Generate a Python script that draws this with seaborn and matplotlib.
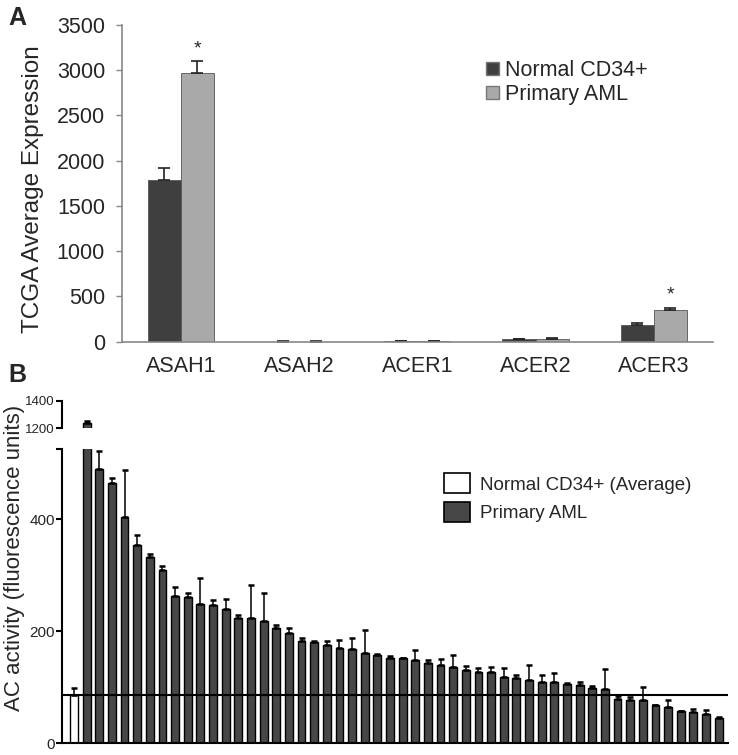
import numpy as np
import pandas as pd
import seaborn as sns
import matplotlib.pyplot as plt
from matplotlib.patches import Patch

sns.set_theme(style="white")
plt.rcParams['font.family'] = ['Liberation Sans', 'DejaVu Sans']

# ---- panel A: TCGA expression ----
genes = ["ASAH1", "ASAH2", "ACER1", "ACER2", "ACER3"]
normal_expr = [1790, 2, 6, 25, 190]
normal_err = [135, 1, 2, 8, 18]
aml_expr = [2975, 2, 8, 28, 355]
aml_err = [130, 1, 3, 8, 22]
star_genes = ["ASAH1", "ACER3"]

# ---- panel B: AC activity ----
normal_avg = 86
normal_avg_err = 12
aml_activity = [1240, 490, 465, 403, 354, 333, 310, 263, 261, 248, 247, 240,
                223, 223, 218, 205, 197, 183, 181, 176, 170, 168, 161, 158,
                153, 152, 148, 144, 140, 137, 130, 127, 127, 118, 117, 113,
                110, 109, 106, 104, 99, 97, 79, 78, 77, 68, 65, 57, 55, 53, 46]
aml_activity_err = [10, 32, 8, 84, 17, 4, 6, 15, 7, 46, 8, 17,
                    6, 60, 50, 6, 8, 5, 1, 7, 14, 19, 41, 1,
                    2, 1, 18, 5, 11, 21, 8, 7, 9, 17, 5, 26,
                    12, 16, 2, 6, 4, 35, 6, 5, 24, 1, 13, 1, 7, 6, 1]

W, H = 738, 755
fig = plt.figure(figsize=(W / 100, H / 100), dpi=100)

def box(l, t, r, b):
    return [l / W, 1 - b / H, (r - l) / W, (b - t) / H]

# ================= panel A =================
axA = fig.add_axes(box(121.7, 25, 713, 341.7))
df_a = pd.DataFrame({
    "gene": genes * 2,
    "group": ["Normal CD34+"] * 5 + ["Primary AML"] * 5,
    "value": normal_expr + aml_expr,
})
colA = {"Normal CD34+": "#3f3f3f", "Primary AML": "#a9a9a9"}
sns.barplot(data=df_a, x="gene", y="value", hue="group", palette=colA,
            width=0.56, edgecolor="#555555", linewidth=0.6, ax=axA, legend=False)

for cont, errs in zip(axA.containers, [normal_err, aml_err]):
    xs = [p.get_x() + p.get_width() / 2 for p in cont]
    ys = [p.get_height() for p in cont]
    axA.errorbar(xs, ys, yerr=[np.zeros(len(errs)), errs], fmt="none",
                 ecolor="#222222", elinewidth=1.2, capsize=4.5, capthick=1.2)
    if cont is axA.containers[1]:
        for g, x, y, e in zip(genes, xs, ys, errs):
            if g in star_genes:
                axA.text(x, y + e + 40, "*", ha="center", va="bottom", fontsize=14)

axA.set_ylim(0, 3500)
axA.set_yticks(range(0, 3501, 500))
axA.set_xlim(-0.5, 4.5)
axA.set_xticks(range(5))
axA.set_xticklabels(genes, fontsize=15.5)
axA.set_xticks(np.arange(-0.5, 5, 1), minor=True)
axA.tick_params(axis="x", which="major", length=0, pad=10)
axA.tick_params(axis="x", which="minor", length=6, width=1, color="#888888", direction="out")
axA.tick_params(axis="y", length=4, width=1, color="#888888", direction="out",
                pad=8, labelsize=15.5, left=True)
axA.set_xlabel("")
axA.set_ylabel("")
for s in ["top", "right"]:
    axA.spines[s].set_visible(False)
for s in ["left", "bottom"]:
    axA.spines[s].set_color("#888888")
    axA.spines[s].set_linewidth(1.2)
fig.text(33 / W, 1 - 189 / H, "TCGA Average Expression", rotation=90,
         ha="center", va="center", fontsize=17.5)
fig.legend(handles=[Patch(facecolor=colA["Normal CD34+"], edgecolor="#777777", label="Normal CD34+"),
                    Patch(facecolor=colA["Primary AML"], edgecolor="#777777", label="Primary AML")],
           loc="upper left", bbox_to_anchor=(486 / W, 1 - 60 / H), frameon=False,
           fontsize=15.5, handlelength=0.6, handleheight=0.6, handletextpad=0.3,
           labelspacing=0.15, borderpad=0, borderaxespad=0)
fig.text(8 / W, 1 - 18 / H, "A", fontsize=18, fontweight="bold", va="center")

# ================= panel B =================
samples = ["N"] + [f"P{i + 1}" for i in range(len(aml_activity))]
values_b = [normal_avg] + aml_activity
errs_b = [normal_avg_err] + aml_activity_err
df_b = pd.DataFrame({
    "sample": samples,
    "value": values_b,
    "group": ["Normal CD34+ (Average)"] + ["Primary AML"] * len(aml_activity),
})
colB = {"Normal CD34+ (Average)": "white", "Primary AML": "#474747"}

axL = fig.add_axes(box(62, 449, 728, 743.3))
axU = fig.add_axes(box(62, 400.7, 728, 428.3))
xlim_b = (-0.95, 51.74)
for ax in (axL, axU):
    sns.barplot(data=df_b, x="sample", y="value", hue="group", dodge=False,
                palette=colB, width=0.62, edgecolor="black", linewidth=1.0,
                ax=ax, legend=False)
    ax.errorbar(np.arange(len(values_b)), values_b,
                yerr=[np.zeros(len(errs_b)), errs_b], fmt="none", ecolor="black",
                elinewidth=1.1, capsize=2.5, capthick=1.8)
    ax.set_xlim(*xlim_b)
    ax.set_xticks([])
    ax.set_xlabel("")
    ax.set_ylabel("")
    for s in ["top", "right"]:
        ax.spines[s].set_visible(False)
    for s in ["left", "bottom"]:
        ax.spines[s].set_color("black")
        ax.spines[s].set_linewidth(1.5)
    ax.tick_params(axis="y", length=4, width=1.5, color="black", direction="out",
                   pad=1, labelsize=11, left=True)

axL.set_ylim(0, 525)
axL.set_yticks([0, 200, 400, 525])
axL.set_yticklabels(["0", "200", "400", ""])
axL.axhline(normal_avg, color="black", lw=1.5, zorder=5)
axL.set_xlim(*xlim_b)

axU.set_ylim(1200, 1400)
axU.set_yticks([1200, 1400])
axU.set_yticklabels(["1200", "1400"])
axU.tick_params(axis="y", labelsize=9.5)
axU.spines["bottom"].set_visible(False)
axU.patch.set_alpha(0)

fig.text(15 / W, 1 - 558 / H, "AC activity (fluorescence units)", rotation=90,
         ha="center", va="center", fontsize=16)
fig.legend(handles=[Patch(facecolor="white", edgecolor="black", lw=1.2, label="Normal CD34+ (Average)"),
                    Patch(facecolor=colB["Primary AML"], edgecolor="black", lw=1.2, label="Primary AML")],
           loc="upper left", bbox_to_anchor=(444 / W, 1 - 473 / H), frameon=False,
           fontsize=13.5, handlelength=1.4, handleheight=1.3, handletextpad=0.5,
           labelspacing=0.45, borderpad=0, borderaxespad=0)
fig.text(8 / W, 1 - 375 / H, "B", fontsize=18, fontweight="bold", va="center")

fig.savefig("out.png", dpi=100)
